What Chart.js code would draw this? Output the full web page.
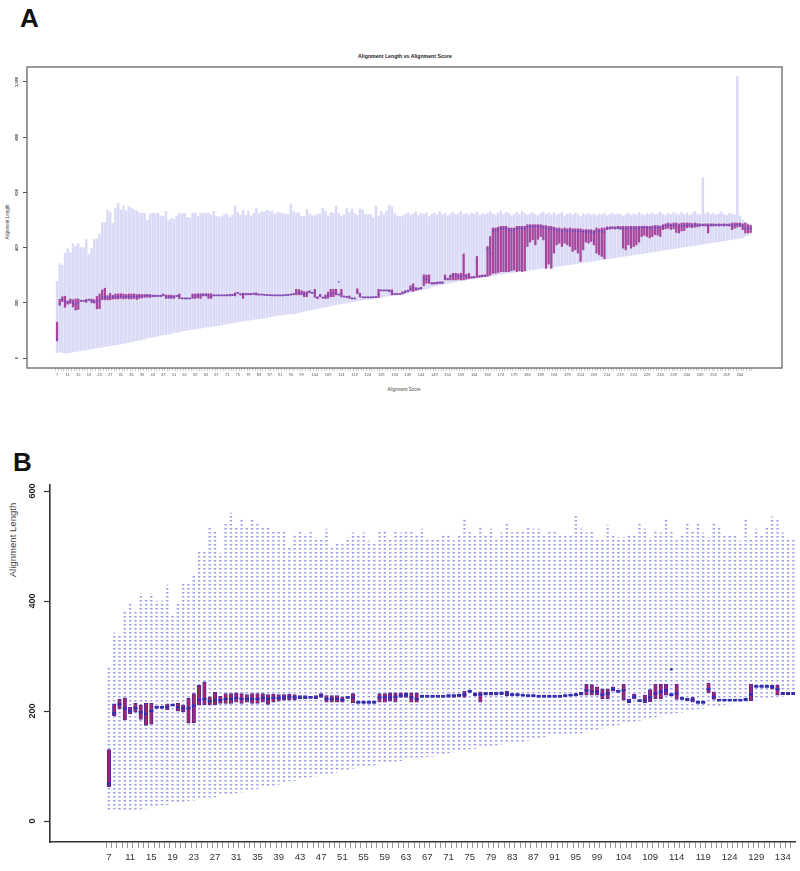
<!DOCTYPE html>
<html lang="en">
<head>
<meta charset="UTF-8">
<title>Alignment Length vs Alignment Score</title>
<script src="https://cdn.jsdelivr.net/npm/chart.js"></script>
<style>
  body { margin: 0; background: #fff; width: 800px; height: 871px; position: relative; overflow: hidden;
         font-family: "Liberation Sans", Arial, sans-serif; }
  canvas { position: absolute; left: 0; }
  .txt { position: absolute; white-space: nowrap; color: #222; transform: translate(-50%, -50%); }
  .rot { transform: translate(-50%, -50%) rotate(-90deg); }
  .panel { position: absolute; font-weight: bold; font-size: 26px; line-height: 1; color: #111; }
</style>
</head>
<body>
<div class="panel" style="left:20px; top:5px;">A</div>
<div class="panel" style="left:13px; top:449px;">B</div>
<div class="txt" style="left:405px; top:56px; font-size:5.2px; font-weight:bold;">Alignment Length vs Alignment Score</div>
<div class="txt" style="left:404px; top:389px; font-size:4.5px; color:#444;">Alignment Score</div>
<div class="txt rot" style="left:7px; top:222px; font-size:4.5px; color:#444;">Alignment Length</div>
<div class="txt rot" style="left:12px; top:540px; font-size:9.6px; color:#444;">Alignment Length</div>

<canvas id="chartA" width="800" height="420" style="top:0;"></canvas>
<canvas id="chartB" width="800" height="431" style="top:440px;"></canvas>

<script>
// alignment scores (one box per score)
const scores = [
  7, 8, 9, 10, 11, 12, 13, 14, 15, 16,
  17, 18, 19, 20, 21, 22, 23, 24, 25, 26,
  27, 28, 29, 30, 31, 32, 33, 34, 35, 36,
  37, 38, 39, 40, 41, 42, 43, 44, 45, 46,
  47, 48, 49, 50, 51, 52, 53, 54, 55, 56,
  57, 58, 59, 60, 61, 62, 63, 64, 65, 66,
  67, 68, 69, 70, 71, 72, 73, 74, 75, 76,
  77, 78, 79, 80, 81, 82, 83, 84, 85, 86,
  87, 88, 89, 90, 91, 92, 93, 94, 95, 96,
  97, 98, 99, 100, 101, 102, 103, 104, 105, 106,
  107, 108, 109, 110, 111, 112, 113, 114, 115, 116,
  117, 118, 119, 120, 121, 122, 123, 124, 125, 126,
  127, 128, 129, 130, 131, 132, 133, 134, 135, 136,
  137, 138, 139, 140, 141, 142, 143, 144, 145, 146,
  147, 148, 149, 150, 151, 152, 153, 154, 155, 156,
  157, 158, 159, 160, 161, 162, 163, 164, 165, 166,
  167, 168, 169, 170, 171, 172, 173, 174, 175, 176,
  177, 178, 179, 180, 181, 182, 183, 184, 185, 186,
  187, 188, 189, 190, 191, 192, 193, 194, 195, 196,
  197, 198, 199, 200, 201, 202, 203, 204, 205, 206,
  207, 208, 209, 210, 211, 212, 213, 214, 215, 216,
  217, 218, 219, 220, 221, 222, 223, 224, 225, 226,
  227, 228, 229, 230, 231, 232, 233, 234, 235, 236,
  237, 238, 239, 240, 241, 242, 243, 244, 245, 246,
  247, 248, 249, 250, 251, 252, 253, 254, 255, 256,
  257, 258, 259, 260, 261, 262, 263, 264, 265, 266,
  267, 268
];

const whiskerLow = [
  20, 22, 20, 19, 18, 20, 22, 24, 25, 27,
  29, 30, 32, 33, 35, 37, 38, 40, 42, 43,
  44, 46, 48, 49, 51, 53, 55, 58, 59, 61,
  63, 65, 67, 69, 73, 74, 76, 78, 80, 82,
  84, 85, 87, 89, 91, 93, 96, 98, 99, 101,
  102, 104, 105, 107, 108, 110, 112, 113, 114, 116,
  117, 118, 120, 122, 124, 126, 127, 129, 131, 132,
  134, 135, 137, 138, 140, 141, 142, 143, 145, 147,
  149, 151, 153, 155, 156, 157, 158, 159, 160, 160,
  162, 165, 167, 169, 171, 173, 175, 177, 179, 181,
  183, 185, 187, 189, 191, 193, 195, 197, 198, 200,
  202, 204, 205, 207, 208, 210, 211, 213, 214, 216,
  217, 219, 220, 222, 223, 225, 226, 227, 228, 229,
  229, 232, 235, 238, 240, 242, 245, 247, 249, 251,
  253, 258, 260, 262, 264, 266, 268, 270, 272, 274,
  276, 278, 280, 282, 283, 285, 287, 288, 290, 292,
  293, 294, 295, 297, 298, 300, 302, 303, 305, 306,
  308, 309, 310, 312, 313, 312, 315, 317, 318, 320,
  321, 323, 324, 326, 325, 327, 325, 330, 331, 333,
  334, 336, 337, 338, 340, 341, 343, 344, 346, 347,
  349, 350, 352, 353, 355, 356, 357, 359, 360, 362,
  363, 365, 366, 368, 369, 371, 372, 374, 375, 377,
  378, 380, 381, 383, 384, 386, 387, 389, 390, 392,
  393, 395, 396, 398, 399, 401, 402, 404, 405, 407,
  408, 410, 411, 413, 414, 416, 417, 419, 420, 422,
  423, 425, 426, 428, 429, 431, 432, 434, 436, 440,
  445, 450
];

const lowerQuartile = [
  62, 191, 204, 184, 195, 198, 185, 174, 176, 205,
  205, 202, 209, 200, 199, 178, 179, 211, 211, 211,
  211, 214, 214, 214, 216, 214, 216, 214, 214, 216,
  212, 216, 218, 220, 220, 220, 222, 222, 223, 222,
  225, 216, 216, 216, 216, 223, 215, 214, 214, 214,
  214, 216, 216, 218, 216, 225, 225, 216, 216, 225,
  225, 225, 225, 225, 225, 225, 226, 225, 234, 228,
  216, 229, 229, 229, 230, 228, 228, 228, 227, 226,
  226, 225, 225, 225, 225, 225, 226, 227, 228, 229,
  229, 229, 229, 222, 222, 236, 234, 220, 215, 222,
  217, 215, 217, 222, 222, 229, 228, 221, 221, 219,
  216, 214, 214, 233, 221, 218, 218, 218, 218, 218,
  219, 219, 243, 243, 243, 240, 229, 230, 230, 230,
  232, 236, 240, 243, 241, 245, 248, 250, 262, 271,
  271, 268, 268, 269, 270, 270, 283, 283, 283, 283,
  283, 285, 283, 283, 286, 288, 289, 290, 292, 293,
  294, 295, 296, 300, 307, 307, 310, 313, 313, 313,
  313, 316, 319, 313, 316, 313, 316, 404, 420, 428,
  410, 430, 440, 428, 325, 340, 325, 380, 410, 416,
  404, 416, 410, 404, 386, 392, 380, 350, 392, 420,
  416, 422, 410, 380, 374, 368, 360, 465, 467, 468,
  467, 468, 466, 398, 392, 410, 398, 404, 410, 420,
  440, 445, 440, 435, 440, 447, 445, 440, 465, 468,
  470, 466, 468, 455, 453, 460, 462, 472, 474, 472,
  474, 475, 478, 479, 478, 453, 478, 478, 479, 478,
  479, 478, 479, 478, 465, 470, 474, 476, 465, 453,
  453, 455
];

const median = [
  68, 196, 212, 205, 200, 205, 198, 195, 200, 207,
  207, 207, 211, 207, 205, 205, 210, 220, 222, 218,
  220, 220, 222, 222, 224, 222, 222, 222, 222, 224,
  222, 224, 224, 225, 226, 225, 225, 225, 225, 225,
  228, 222, 222, 222, 220, 225, 225, 216, 216, 216,
  216, 225, 225, 225, 226, 228, 229, 225, 222, 227,
  227, 227, 227, 227, 228, 228, 229, 230, 236, 231,
  230, 232, 232, 232, 233, 232, 230, 230, 229, 228,
  228, 227, 227, 227, 227, 227, 228, 229, 230, 232,
  238, 236, 235, 230, 232, 240, 236, 238, 218, 226,
  219, 220, 225, 232, 235, 238, 230, 232, 223, 221,
  220, 216, 216, 240, 226, 220, 220, 220, 220, 220,
  221, 230, 245, 245, 245, 244, 240, 232, 232, 232,
  236, 240, 243, 250, 255, 250, 251, 253, 290, 285,
  280, 271, 271, 272, 273, 273, 290, 286, 295, 300,
  300, 296, 295, 300, 295, 298, 292, 293, 350, 296,
  297, 298, 395, 380, 460, 462, 466, 468, 470, 468,
  465, 462, 465, 468, 470, 468, 470, 475, 476, 476,
  477, 476, 475, 474, 470, 468, 468, 466, 463, 462,
  460, 462, 460, 462, 460, 460, 460, 458, 458, 456,
  458, 456, 455, 460, 458, 462, 456, 470, 471, 472,
  471, 472, 471, 468, 468, 470, 468, 470, 468, 470,
  472, 473, 472, 470, 472, 474, 473, 472, 476, 480,
  482, 480, 481, 478, 476, 478, 480, 480, 481, 480,
  482, 481, 482, 482, 482, 480, 482, 482, 482, 482,
  482, 482, 482, 482, 478, 482, 483, 484, 480, 468,
  470, 470
];

const upperQuartile = [
  130, 213, 222, 224, 207, 214, 211, 214, 214, 209,
  209, 213, 213, 214, 211, 223, 232, 247, 253, 226,
  234, 227, 232, 232, 233, 232, 230, 232, 232, 232,
  230, 231, 230, 230, 231, 230, 228, 228, 227, 228,
  232, 228, 228, 228, 226, 227, 232, 218, 218, 218,
  218, 232, 232, 233, 233, 233, 233, 233, 233, 229,
  229, 229, 229, 229, 230, 230, 231, 236, 238, 233,
  235, 234, 234, 234, 235, 236, 232, 232, 231, 230,
  230, 229, 229, 229, 229, 229, 230, 231, 232, 234,
  249, 248, 244, 240, 240, 244, 238, 249, 222, 231,
  221, 229, 239, 249, 249, 249, 232, 249, 225, 223,
  225, 218, 218, 251, 235, 222, 222, 222, 222, 222,
  223, 249, 247, 247, 247, 247, 247, 234, 234, 234,
  240, 244, 246, 262, 269, 255, 254, 256, 301, 301,
  301, 274, 274, 275, 276, 276, 301, 289, 301, 307,
  307, 305, 307, 377, 303, 307, 295, 296, 368, 299,
  301, 301, 404, 440, 471, 471, 474, 477, 477, 477,
  471, 471, 471, 477, 477, 477, 477, 483, 483, 483,
  483, 483, 483, 480, 480, 477, 477, 474, 471, 471,
  468, 471, 468, 471, 468, 468, 468, 468, 465, 465,
  465, 465, 462, 471, 468, 471, 471, 475, 475, 476,
  475, 477, 476, 477, 477, 477, 477, 477, 477, 477,
  477, 478, 477, 477, 478, 480, 480, 478, 483, 486,
  489, 486, 489, 489, 486, 489, 489, 489, 489, 487,
  489, 487, 486, 485, 486, 486, 486, 486, 485, 486,
  485, 486, 485, 486, 489, 489, 489, 489, 486, 489,
  483, 480
];

const whiskerHigh = [
  278, 342, 336, 380, 396, 382, 414, 405, 414, 400,
  400, 429, 376, 398, 431, 431, 449, 491, 491, 535,
  527, 487, 542, 560, 536, 551, 533, 549, 542, 536,
  533, 526, 525, 525, 498, 522, 525, 522, 525, 515,
  513, 531, 498, 505, 503, 515, 524, 522, 524, 509,
  507, 525, 525, 513, 525, 524, 525, 525, 518, 531,
  513, 511, 513, 520, 522, 510, 518, 551, 527, 518,
  536, 518, 531, 515, 524, 542, 524, 529, 529, 535,
  531, 531, 522, 527, 527, 522, 522, 520, 558, 531,
  524, 527, 513, 513, 538, 522, 516, 516, 522, 522,
  542, 531, 515, 527, 524, 551, 525, 513, 520, 542,
  527, 540, 524, 516, 540, 536, 520, 520, 520, 509,
  551, 513, 531, 520, 533, 553, 547, 524, 515, 512,
  515, 520, 526, 518, 522, 530, 516, 524, 520, 527,
  512, 520, 525, 518, 530, 520, 524, 516, 522, 528,
  519, 523, 531, 520, 524, 518, 526, 521, 529, 517,
  523, 520, 525, 530, 522, 518, 526, 533, 520, 528,
  524, 515, 521, 527, 519, 530, 524, 518, 522, 527,
  520, 516, 524, 529, 521, 525, 519, 526, 518, 522,
  527, 515, 521, 524, 518, 526, 520, 512, 523, 519,
  525, 517, 521, 516, 522, 518, 524, 515, 520, 526,
  518, 523, 520, 514, 519, 525, 516, 522, 519, 526,
  520, 517, 523, 520, 526, 518, 522, 529, 521, 517,
  524, 520, 527, 522, 519, 528, 520, 525, 517, 523,
  530, 521, 519, 653, 523, 527, 520, 524, 518, 522,
  529, 520, 516, 524, 521, 518, 1020, 515, 500, 492,
  488, 485
];

const outlierScores = [113];
const outlierValues = [276];

// tick labels as printed on each panel
const xLabelsA = [7, 11, 15, 19, 23, 27, 31, 35, 39, 43, 47, 51, 55, 59, 63, 67, 71, 75, 79, 83, 87, 91, 95, 99,
  104, 109, 114, 119, 124, 129, 134, 139, 144, 149, 154, 159, 164, 169, 174, 179, 184, 189, 194, 199,
  204, 209, 214, 219, 224, 229, 234, 239, 244, 249, 254, 259, 264];
const xLabelsB = [7, 11, 15, 19, 23, 27, 31, 35, 39, 43, 47, 51, 55, 59, 63, 67, 71, 75, 79, 83, 87, 91, 95, 99,
  104, 109, 114, 119, 124, 129, 134];
const yTicksA = [0, 200, 400, 600, 800, 1000];
const yTicksB = [0, 200, 400, 600];

const FONT = '"Liberation Sans", Arial, sans-serif';
const lastB = scores.indexOf(136) + 1;

function boxDatasets(n, look) {
  const s = scores.slice(0, n);
  return [
    {
      type: 'bar', label: 'whisker', order: 3, grouped: false,
      data: s.map((v, i) => ({ x: v, y: [whiskerLow[i], whiskerHigh[i]] })),
      backgroundColor: look.whisker, barThickness: look.whiskerWidth, borderWidth: 0
    },
    {
      type: 'bar', label: 'box', order: 2, grouped: false,
      data: s.map((v, i) => ({ x: v, y: [lowerQuartile[i], upperQuartile[i]] })),
      backgroundColor: look.box, borderColor: look.boxEdge, borderWidth: look.edge,
      borderSkipped: false, barThickness: look.boxWidth
    },
    {
      type: 'line', label: 'median', order: 1, showLine: false,
      data: s.map((v, i) => ({ x: v, y: median[i] })),
      pointStyle: 'line', pointRadius: look.medLen, pointBorderWidth: look.medWidth,
      pointBorderColor: look.med, pointHoverRadius: look.medLen
    },
    {
      type: 'line', label: 'outlier', order: 0, showLine: false,
      data: outlierScores.map((v, i) => ({ x: v, y: outlierValues[i] })),
      pointStyle: 'circle', pointRadius: look.outR, pointBorderWidth: 0,
      pointBackgroundColor: look.med
    }
  ];
}

const framePlugin = {
  id: 'frame',
  afterDatasetsDraw(chart) {
    const { ctx, chartArea: a } = chart;
    ctx.save();
    ctx.strokeStyle = '#666';
    ctx.lineWidth = 1.3;
    ctx.strokeRect(a.left, a.top, a.right - a.left, a.bottom - a.top);
    ctx.restore();
  }
};

// panel A: all scores
new Chart(document.getElementById('chartA'), {
  type: 'bar',
  data: {
    datasets: boxDatasets(scores.length, {
      whisker: '#dadaf7', whiskerWidth: 1.8,
      box: '#a8449c', boxEdge: '#a8449c', edge: 0, boxWidth: 1.6,
      med: '#5a4cc8', medLen: 1, medWidth: 1, outR: 0.8
    })
  },
  options: {
    responsive: false, animation: false,
    layout: { padding: { top: 67, right: 18, left: 0, bottom: 32 } },
    plugins: { legend: { display: false }, tooltip: { enabled: false } },
    scales: {
      x: {
        type: 'linear', min: -4.3, max: 279.8, offset: false,
        afterBuildTicks: sc => { sc.ticks = scores.map(v => ({ value: v })); },
        afterFit: sc => { sc.height = 20; },
        grid: { drawOnChartArea: false, tickLength: 3, tickColor: '#aaa', tickWidth: 0.6 },
        border: { display: false },
        ticks: {
          autoSkip: false, minRotation: 0, maxRotation: 0, padding: 1, color: '#555',
          font: { size: 4, family: FONT },
          callback: v => xLabelsA.includes(v) ? String(v) : ''
        }
      },
      y: {
        min: -36, max: 1054,
        afterBuildTicks: sc => { sc.ticks = yTicksA.map(v => ({ value: v })); },
        afterFit: sc => { sc.width = 27; },
        grid: { drawOnChartArea: false, tickLength: 4, tickColor: '#555' },
        border: { display: false },
        ticks: {
          minRotation: 90, maxRotation: 90, crossAlign: 'center', padding: 1, color: '#333',
          font: { size: 4, weight: 'bold', family: FONT }
        }
      }
    }
  },
  plugins: [framePlugin]
});

// panel B: zoom on the first scores, dotted whiskers
const ctxB = document.getElementById('chartB').getContext('2d');
const dotTile = document.createElement('canvas');
dotTile.width = 2; dotTile.height = 4;
const dt = dotTile.getContext('2d');
dt.fillStyle = 'rgba(110,110,228,0.7)';
dt.fillRect(0, 0, 2, 1.5);
const dotted = ctxB.createPattern(dotTile, 'repeat');

new Chart(ctxB, {
  type: 'bar',
  data: {
    datasets: boxDatasets(lastB, {
      whisker: dotted, whiskerWidth: 1.6,
      box: '#a3236f', boxEdge: '#3d2c9e', edge: 0.8, boxWidth: 3.5,
      med: '#2e2eb4', medLen: 2, medWidth: 2.2, outR: 1.4
    })
  },
  options: {
    responsive: false, animation: false,
    layout: { padding: { top: 45, right: 5, left: 0, bottom: 0 } },
    plugins: { legend: { display: false }, tooltip: { enabled: false } },
    scales: {
      x: {
        type: 'linear', min: -4.1, max: 136.3, offset: false,
        afterBuildTicks: sc => { sc.ticks = scores.slice(0, lastB).map(v => ({ value: v })); },
        afterFit: sc => { sc.height = 29; },
        grid: { drawOnChartArea: false, tickLength: 6, tickColor: '#777', tickWidth: 0.8 },
        border: { display: true, color: '#333', width: 1.6 },
        ticks: {
          autoSkip: false, minRotation: 0, maxRotation: 0, padding: 4, color: '#333',
          font: { size: 9.5, family: FONT },
          callback: v => xLabelsB.includes(v) ? String(v) : ''
        }
      },
      y: {
        min: -38, max: 611,
        afterBuildTicks: sc => { sc.ticks = yTicksB.map(v => ({ value: v })); },
        afterFit: sc => { sc.width = 50; },
        grid: { drawOnChartArea: false, tickLength: 6, tickColor: '#333', tickWidth: 1.2 },
        border: { display: true, color: '#333', width: 1.6 },
        ticks: {
          minRotation: 90, maxRotation: 90, crossAlign: 'center', padding: 4, color: '#222',
          font: { size: 9, weight: 'bold', family: FONT }
        }
      }
    }
  }
});
</script>
</body>
</html>
